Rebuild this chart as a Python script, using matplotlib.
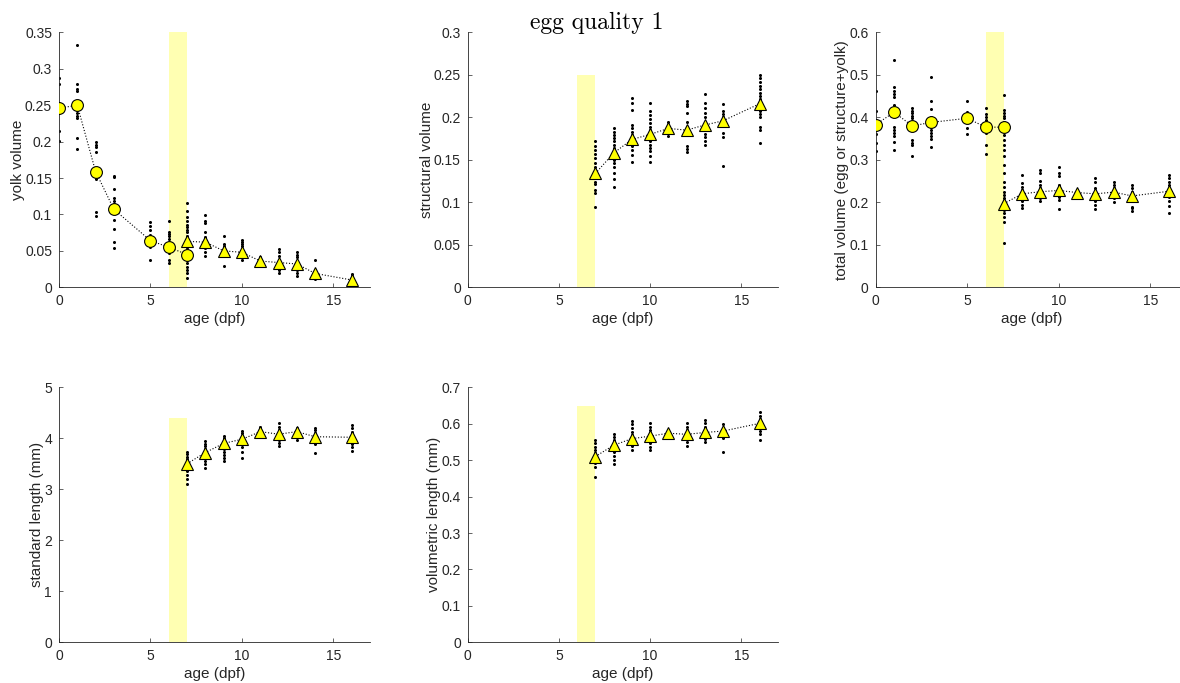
import matplotlib
matplotlib.use('Agg')
import numpy as np
import matplotlib.pyplot as plt
from matplotlib.ticker import FuncFormatter

plt.rcParams['font.family'] = ['Liberation Sans', 'DejaVu Sans']

# ---------------- data ----------------
egg_ages = [0, 1, 2, 3, 5, 6, 7]
larva_ages = [7, 8, 9, 10, 11, 12, 13, 14, 16]

# yolk volume
yolk_egg_mean = [0.246, 0.250, 0.159, 0.107, 0.064, 0.055, 0.045]
yolk_egg_dots = [
    [0.288, 0.279, 0.247, 0.214, 0.201],
    [0.333, 0.279, 0.273, 0.270, 0.244, 0.239, 0.235, 0.232, 0.205, 0.190],
    [0.199, 0.195, 0.192, 0.186, 0.152, 0.149, 0.104, 0.098],
    [0.153, 0.151, 0.135, 0.123, 0.119, 0.115, 0.108, 0.104, 0.093, 0.080, 0.062, 0.054],
    [0.089, 0.084, 0.079, 0.072, 0.058, 0.055, 0.037],
    [0.091, 0.076, 0.073, 0.070, 0.066, 0.051, 0.047, 0.038, 0.033],
    [0.105, 0.091, 0.083, 0.076, 0.062, 0.053, 0.043, 0.038, 0.028, 0.024, 0.020, 0.013],
]
yolk_larva_mean = [0.063, 0.062, 0.050, 0.048, 0.036, 0.034, 0.032, 0.019, 0.010]
yolk_larva_dots = [
    [0.116, 0.097, 0.086, 0.078, 0.071, 0.068, 0.062, 0.058, 0.053, 0.048, 0.043, 0.033],
    [0.099, 0.091, 0.088, 0.076, 0.069, 0.067, 0.063, 0.058, 0.054, 0.049, 0.043],
    [0.071, 0.059, 0.056, 0.053, 0.049, 0.046, 0.043, 0.029],
    [0.065, 0.062, 0.059, 0.056, 0.051, 0.047, 0.042, 0.037],
    [0.041, 0.0375, 0.033, 0.031],
    [0.053, 0.048, 0.043, 0.033, 0.027, 0.024, 0.019],
    [0.048, 0.044, 0.041, 0.035, 0.031, 0.024, 0.019, 0.015],
    [0.0375, 0.024, 0.019, 0.015, 0.011],
    [0.018, 0.015, 0.011, 0.008, 0.003],
]

# structural volume
struct_larva_mean = [0.134, 0.158, 0.174, 0.180, 0.187, 0.185, 0.191, 0.196, 0.216]
struct_larva_dots = [
    [0.172, 0.166, 0.162, 0.157, 0.152, 0.146, 0.142, 0.134, 0.130, 0.124, 0.121, 0.115, 0.111, 0.094],
    [0.187, 0.183, 0.179, 0.176, 0.172, 0.168, 0.164, 0.158, 0.154, 0.150, 0.146, 0.142, 0.135, 0.127, 0.118],
    [0.223, 0.217, 0.209, 0.191, 0.187, 0.183, 0.179, 0.175, 0.170, 0.166, 0.162, 0.156, 0.147],
    [0.217, 0.208, 0.203, 0.198, 0.193, 0.189, 0.185, 0.181, 0.176, 0.172, 0.168, 0.164, 0.160, 0.154, 0.147],
    [0.195, 0.191, 0.187, 0.182, 0.178],
    [0.219, 0.216, 0.213, 0.205, 0.195, 0.189, 0.183, 0.179, 0.166, 0.163, 0.159],
    [0.227, 0.217, 0.211, 0.205, 0.200, 0.191, 0.185, 0.181, 0.177, 0.172, 0.168],
    [0.216, 0.207, 0.204, 0.200, 0.195, 0.182, 0.177, 0.143],
    [0.250, 0.246, 0.242, 0.237, 0.233, 0.229, 0.225, 0.222, 0.217, 0.212, 0.208, 0.204, 0.200, 0.189, 0.185, 0.170],
]

# total volume
total_egg_mean = [0.383, 0.412, 0.380, 0.388, 0.398, 0.377, 0.377]
total_egg_dots = [
    [0.462, 0.415, 0.382, 0.361, 0.340, 0.322],
    [0.535, 0.471, 0.463, 0.455, 0.449, 0.429, 0.412, 0.378, 0.370, 0.363, 0.356, 0.343, 0.323],
    [0.421, 0.415, 0.410, 0.403, 0.398, 0.380, 0.347, 0.340, 0.334, 0.309],
    [0.494, 0.439, 0.420, 0.400, 0.388, 0.377, 0.370, 0.364, 0.356, 0.348, 0.331],
    [0.439, 0.413, 0.410, 0.398, 0.374, 0.360],
    [0.421, 0.408, 0.402, 0.394, 0.386, 0.377, 0.370, 0.364, 0.335, 0.313],
    [0.453, 0.417, 0.410, 0.403, 0.398, 0.390, 0.382, 0.377, 0.370, 0.359, 0.347, 0.335, 0.323, 0.309, 0.288],
]
total_larva_mean = [0.197, 0.220, 0.225, 0.228, 0.223, 0.220, 0.224, 0.215, 0.226]
total_larva_dots = [
    [0.270, 0.249, 0.237, 0.225, 0.217, 0.210, 0.202, 0.196, 0.190, 0.182, 0.174, 0.166, 0.154, 0.105],
    [0.264, 0.245, 0.237, 0.229, 0.221, 0.210, 0.202, 0.194, 0.186],
    [0.275, 0.268, 0.251, 0.241, 0.233, 0.225, 0.217, 0.210, 0.203],
    [0.283, 0.268, 0.262, 0.241, 0.233, 0.229, 0.221, 0.213, 0.206, 0.184],
    [0.229, 0.223, 0.215],
    [0.257, 0.249, 0.233, 0.221, 0.212, 0.202, 0.194, 0.184],
    [0.249, 0.241, 0.233, 0.225, 0.217, 0.210, 0.200],
    [0.241, 0.233, 0.225, 0.215, 0.190, 0.186, 0.180],
    [0.264, 0.257, 0.249, 0.241, 0.233, 0.227, 0.220, 0.212, 0.204, 0.191, 0.174],
]

# standard length (mm)
sl_larva_mean = [3.50, 3.72, 3.90, 3.98, 4.13, 4.08, 4.13, 4.03, 4.02]
sl_larva_dots = [
    [3.74, 3.69, 3.64, 3.60, 3.53, 3.46, 3.40, 3.35, 3.28, 3.20, 3.10],
    [3.94, 3.88, 3.84, 3.79, 3.73, 3.66, 3.61, 3.56, 3.49, 3.41],
    [4.05, 4.00, 3.95, 3.90, 3.84, 3.79, 3.73, 3.67, 3.62, 3.56],
    [4.15, 4.10, 4.05, 4.00, 3.94, 3.88, 3.82, 3.74, 3.62],
    [4.23, 4.17, 4.10, 4.07],
    [4.30, 4.23, 4.17, 4.10, 4.03, 3.97, 3.90, 3.84],
    [4.21, 4.17, 4.10, 4.03, 3.97],
    [4.21, 4.17, 4.10, 4.03, 3.95, 3.88, 3.72],
    [4.26, 4.20, 4.13, 4.08, 4.02, 3.95, 3.88, 3.82, 3.75],
]

# volumetric length (mm)
vl_larva_mean = [0.510, 0.541, 0.559, 0.566, 0.574, 0.571, 0.576, 0.580, 0.601]
vl_larva_dots = [
    [0.555, 0.546, 0.537, 0.528, 0.519, 0.509, 0.500, 0.491, 0.482, 0.455],
    [0.571, 0.564, 0.555, 0.546, 0.540, 0.531, 0.522, 0.512, 0.500, 0.489],
    [0.607, 0.598, 0.589, 0.578, 0.569, 0.560, 0.549, 0.540, 0.528],
    [0.601, 0.592, 0.583, 0.574, 0.564, 0.555, 0.546, 0.537, 0.528],
    [0.580, 0.574, 0.567],
    [0.601, 0.592, 0.583, 0.574, 0.560, 0.549, 0.540],
    [0.610, 0.601, 0.592, 0.578, 0.567, 0.558, 0.551],
    [0.598, 0.589, 0.580, 0.571, 0.562, 0.523],
    [0.631, 0.622, 0.613, 0.601, 0.589, 0.580, 0.571, 0.555],
]

# ---------------- plotting ----------------
AX_COL = '#262626'
BAND = '#FFFFB2'
YEL = '#FFFF00'

fig = plt.figure(figsize=(11.8, 6.83), dpi=100)

fmt = FuncFormatter(lambda v, _: '%g' % round(v, 6))


def draw_dots(ax, ages, dots):
    for a, vals in zip(ages, dots):
        ax.plot([a] * len(vals), vals, 'o', ms=2.2, color='k', mec='none', zorder=2)


def panel(rect, ylabel, ytop, ystep, band_top, larva_mean, larva_dots,
          egg_mean=None, egg_dots=None):
    ax = fig.add_axes(rect)
    ax.fill_between([6, 7], 0, band_top, color=BAND, lw=0, zorder=0)
    if egg_dots is not None:
        draw_dots(ax, egg_ages, egg_dots)
    draw_dots(ax, larva_ages, larva_dots)
    if egg_mean is not None:
        ax.plot(egg_ages, egg_mean, ':', color='k', lw=0.8, zorder=3)
        ax.plot(egg_ages, egg_mean, 'o', ms=8.5, mfc=YEL, mec='k', mew=0.8,
                ls='none', zorder=4)
    ax.plot(larva_ages, larva_mean, ':', color='k', lw=0.8, zorder=3)
    ax.plot(larva_ages, larva_mean, '^', ms=9, mfc=YEL, mec='k', mew=0.8,
            ls='none', zorder=4)
    ax.set_xlim(0, 17)
    ax.set_ylim(0, ytop)
    ax.set_xticks([0, 5, 10, 15])
    ax.set_yticks(np.arange(0, ytop + ystep / 2, ystep))
    ax.yaxis.set_major_formatter(fmt)
    for s in ['top', 'right']:
        ax.spines[s].set_visible(False)
    for s in ['left', 'bottom']:
        ax.spines[s].set_color(AX_COL)
        ax.spines[s].set_linewidth(0.6)
    ax.tick_params(direction='in', length=3, width=0.5, colors=AX_COL,
                   labelsize=10, pad=5)
    ax.set_xlabel('age (dpf)', fontsize=11, color=AX_COL, labelpad=3)
    ax.set_ylabel(ylabel, fontsize=11, color=AX_COL, labelpad=0)
    ax.set_facecolor('none')
    return ax


panel([0.0500, 0.5794, 0.2636, 0.3731], 'yolk volume', 0.35, 0.05, 0.35,
      yolk_larva_mean, yolk_larva_dots, yolk_egg_mean, yolk_egg_dots)
panel([0.3964, 0.5794, 0.2627, 0.3731], 'structural volume', 0.3, 0.05, 0.25,
      struct_larva_mean, struct_larva_dots)
panel([0.7421, 0.5794, 0.2638, 0.3731], 'total volume (egg or structure+yolk)',
      0.6, 0.1, 0.6, total_larva_mean, total_larva_dots,
      total_egg_mean, total_egg_dots)
panel([0.0500, 0.0600, 0.2636, 0.3729], 'standard length (mm)', 5, 1, 4.4,
      sl_larva_mean, sl_larva_dots)
panel([0.3964, 0.0596, 0.2627, 0.3733], 'volumetric length (mm)', 0.7, 0.1, 0.65,
      vl_larva_mean, vl_larva_dots)

fig.text(0.506, 0.9575, 'egg quality 1', family='cmr10', fontsize=17,
         ha='center', va='baseline', color='k')

fig.savefig('out.png', dpi=100, facecolor='white')
